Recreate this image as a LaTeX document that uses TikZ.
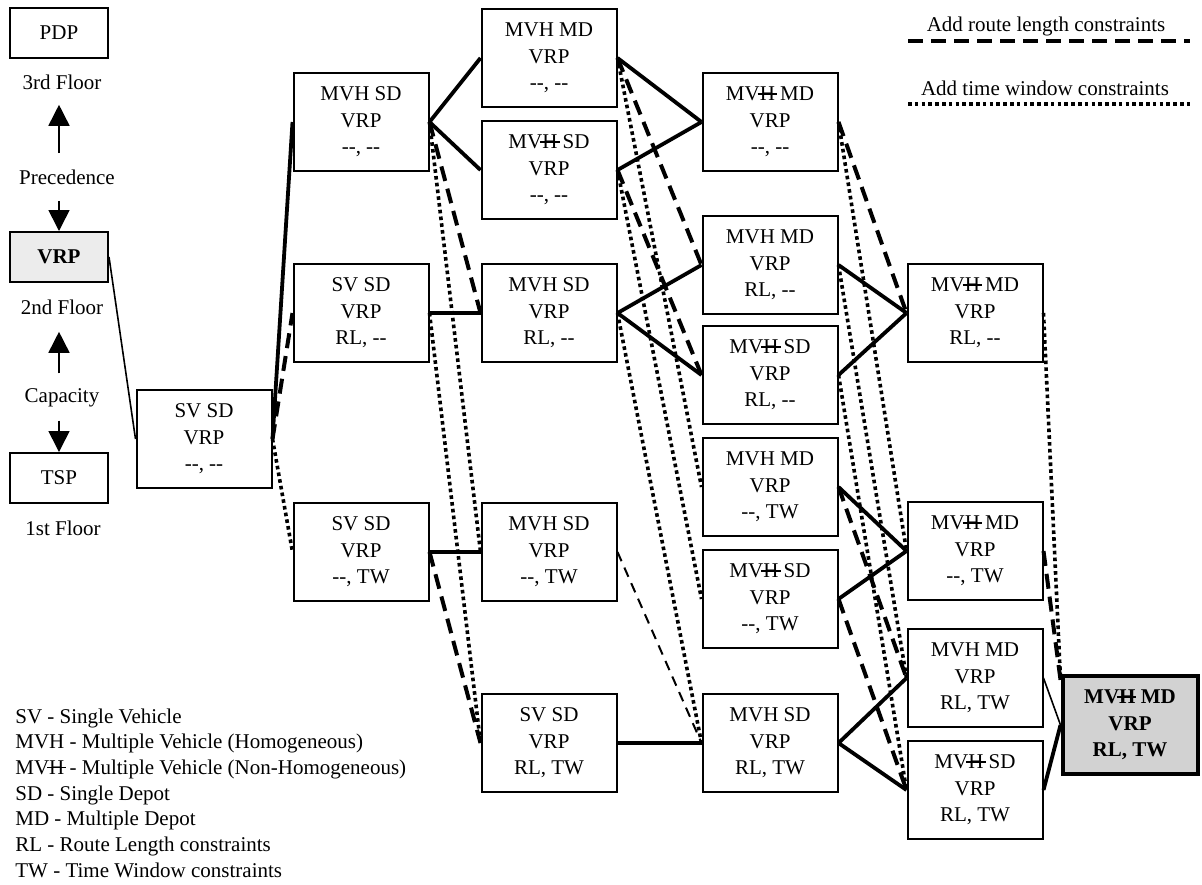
\documentclass[tikz,border=0pt]{standalone}
\usepackage{fontspec}
\setmainfont{Liberation Serif}
\usetikzlibrary{arrows.meta}

\newcommand{\geen}{-{}-}
\newcommand{\Hstreep}{\makebox[0pt][l]{\hspace{-0.1em}\rule[0.3em]{0.92em}{0.07em}}H}
\newcommand{\mvn}{MV\Hstreep}

\begin{document}
\begin{tikzpicture}[x=0.5pt, y=-0.5pt,
    >={Triangle[length=10.5pt,width=10.5pt]},
    font=\fontsize{10.5}{13.2}\selectfont,
    blok/.style={draw, line width=1pt, minimum width=67.5pt, minimum height=49pt, align=center, inner sep=2pt},
    klein/.style={blok, minimum width=49pt, minimum height=25pt},
    eind/.style={blok, line width=2pt, fill=gray!35, font=\fontsize{10.5}{13.2}\selectfont\bfseries},
    tekst/.style={inner sep=0pt},
    vol/.style={line width=1.9pt},
    dun/.style={line width=0.8pt},
    streep/.style={line width=2pt, dash pattern=on 7.5pt off 4pt},
    dunstreep/.style={line width=1pt, dash pattern=on 5pt off 3.5pt},
    stip/.style={line width=1.8pt, dash pattern=on 1.8pt off 1.6pt},
    pijl/.style={->, line width=0.8pt}]

  \useasboundingbox (0,0) rectangle (1202,884);

  % Verdiepingen
  \node[klein] (pdp) at (59,33) {PDP};
  \node[tekst] (fl3) at (62,82) {3rd Floor};
  \node[tekst] (prec) at (67,177) {Precedence};
  \node[klein, fill=gray!15, font=\fontsize{10.5}{13.2}\selectfont\bfseries] (vrp) at (59,257) {VRP};
  \node[tekst] (fl2) at (62,307) {2nd Floor};
  \node[tekst] (cap) at (62,398) {Capacity};
  \node[klein] (tsp) at (59,478) {TSP};
  \node[tekst] (fl1) at (63,528) {1st Floor};

  \draw[pijl, shorten <=8pt, shorten >=7.5pt] (vrp.north |- prec.north) -- (vrp.north |- fl3.south);
  \draw[pijl, shorten <=8pt] (vrp.north |- prec.south) -- (vrp.north);
  \draw[pijl, shorten <=7.5pt, shorten >=8.5pt] (vrp.south |- cap.north) -- (vrp.south |- fl2.south);
  \draw[pijl, shorten <=6.5pt] (tsp.north |- cap.south) -- (tsp.north);

  % Legenda lijnen
  \node[tekst] (lrl) at (1046,26) {Add route length constraints};
  \coordinate (rla) at (908,41);
  \coordinate (rlb) at (1190,41);
  \draw[streep] (rla) -- (rlb);
  \node[tekst] (ltw) at (1045,88) {Add time window constraints};
  \coordinate (twa) at (908,104);
  \coordinate (twb) at (1190,104);
  \draw[stip] (twa) -- (twb);

  % Afkortingen
  \node[tekst, anchor=west, align=left, font=\fontsize{10.5}{12.85}\selectfont] (afk) at (15,793)
    {SV - Single Vehicle\\
     MVH - Multiple Vehicle (Homogeneous)\\
     \mvn{} - Multiple Vehicle (Non-Homogeneous)\\
     SD - Single Depot\\
     MD - Multiple Depot\\
     RL - Route Length constraints\\
     TW - Time Window constraints};

  % Problemen
  \node[blok] (svsd) at (204,439) {SV SD\\VRP\\\geen, \geen};

  \node[blok] (mvhsd) at (361,122) {MVH SD\\VRP\\\geen, \geen};
  \node[blok] (svsdrl) at (361,313) {SV SD\\VRP\\RL, \geen};
  \node[blok] (svsdtw) at (361,552) {SV SD\\VRP\\\geen, TW};

  \node[blok] (mvhmd) at (549,58) {MVH MD\\VRP\\\geen, \geen};
  \node[blok] (mvnsd) at (549,170) {\mvn{} SD\\VRP\\\geen, \geen};
  \node[blok] (mvhsdrl) at (549,313) {MVH SD\\VRP\\RL, \geen};
  \node[blok] (mvhsdtw) at (549,552) {MVH SD\\VRP\\\geen, TW};
  \node[blok] (svsdrltw) at (549,743) {SV SD\\VRP\\RL, TW};

  \node[blok] (mvnmd) at (770,122) {\mvn{} MD\\VRP\\\geen, \geen};
  \node[blok] (mvhmdrl) at (770,265) {MVH MD\\VRP\\RL, \geen};
  \node[blok] (mvnsdrl) at (770,375) {\mvn{} SD\\VRP\\RL, \geen};
  \node[blok] (mvhmdtw) at (770,487) {MVH MD\\VRP\\\geen, TW};
  \node[blok] (mvnsdtw) at (770,599) {\mvn{} SD\\VRP\\\geen, TW};
  \node[blok] (mvhsdrltw) at (770,743) {MVH SD\\VRP\\RL, TW};

  \node[blok] (mvnmdrl) at (975,313) {\mvn{} MD\\VRP\\RL, \geen};
  \node[blok] (mvnmdtw) at (975,551) {\mvn{} MD\\VRP\\\geen, TW};
  \node[blok] (mvhmdrltw) at (975,678) {MVH MD\\VRP\\RL, TW};
  \node[blok] (mvnsdrltw) at (975,790) {\mvn{} SD\\VRP\\RL, TW};

  \node[eind] (mvnmdrltw) at (1130,725) {\mvn{} MD\\VRP\\RL, TW};

  % Verbindingen
  \draw[dun] (vrp.east) -- (svsd.west);
  \draw[vol] (svsd.east) -- (mvhsd.west);
  \draw[streep] (svsd.east) -- (svsdrl.west);
  \draw[stip] (svsd.east) -- (svsdtw.west);

  \draw[vol] (mvhsd.east) -- (mvhmd.west);
  \draw[vol] (mvhsd.east) -- (mvnsd.west);
  \draw[streep] (mvhsd.east) -- (mvhsdrl.west);
  \draw[stip] (mvhsd.east) -- (mvhsdtw.west);
  \draw[vol] (svsdrl.east) -- (mvhsdrl.west);
  \draw[stip] (svsdrl.east) -- (svsdrltw.west);
  \draw[vol] (svsdtw.east) -- (mvhsdtw.west);
  \draw[streep] (svsdtw.east) -- (svsdrltw.west);

  \draw[vol] (mvhmd.east) -- (mvnmd.west);
  \draw[streep] (mvhmd.east) -- (mvhmdrl.west);
  \draw[stip] (mvhmd.east) -- (mvhmdtw.west);
  \draw[vol] (mvnsd.east) -- (mvnmd.west);
  \draw[streep] (mvnsd.east) -- (mvnsdrl.west);
  \draw[stip] (mvnsd.east) -- (mvnsdtw.west);
  \draw[vol] (mvhsdrl.east) -- (mvhmdrl.west);
  \draw[vol] (mvhsdrl.east) -- (mvnsdrl.west);
  \draw[stip] (mvhsdrl.east) -- (mvhsdrltw.west);
  \draw[dunstreep] (mvhsdtw.east) -- (mvhsdrltw.west);
  \draw[vol] (svsdrltw.east) -- (mvhsdrltw.west);

  \draw[streep] (mvnmd.east) -- (mvnmdrl.west);
  \draw[stip] (mvnmd.east) -- (mvnmdtw.west);
  \draw[vol] (mvhmdrl.east) -- (mvnmdrl.west);
  \draw[stip] (mvhmdrl.east) -- (mvhmdrltw.west);
  \draw[vol] (mvnsdrl.east) -- (mvnmdrl.west);
  \draw[stip] (mvnsdrl.east) -- (mvnsdrltw.west);
  \draw[vol] (mvhmdtw.east) -- (mvnmdtw.west);
  \draw[streep] (mvhmdtw.east) -- (mvhmdrltw.west);
  \draw[vol] (mvnsdtw.east) -- (mvnmdtw.west);
  \draw[streep] (mvnsdtw.east) -- (mvnsdrltw.west);
  \draw[vol] (mvhsdrltw.east) -- (mvhmdrltw.west);
  \draw[vol] (mvhsdrltw.east) -- (mvnsdrltw.west);

  \draw[stip] (mvnmdrl.east) -- (mvnmdrltw.147);
  \draw[streep] (mvnmdtw.east) -- (mvnmdrltw.147);
  \draw[dun] (mvhmdrltw.east) -- (mvnmdrltw.west);
  \draw[vol] (mvnsdrltw.east) -- (mvnmdrltw.west);

\end{tikzpicture}
\end{document}
